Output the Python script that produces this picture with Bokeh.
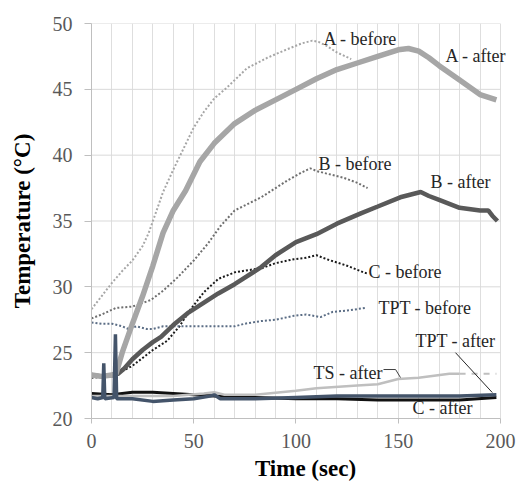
from bokeh.plotting import figure
from bokeh.models import Range1d, FixedTicker, Label
from bokeh.embed import file_html
from bokeh.resources import INLINE

# ---- data ----
a_after_t = [0, 5, 10, 12, 15, 20, 25, 30, 35, 40, 46, 53, 60, 70, 80, 90, 100, 110, 120, 130, 140, 150, 155, 160, 165, 170, 180, 190, 198]
a_after_v = [23.3, 23.2, 23.3, 23.4, 25.0, 27.2, 29.3, 31.6, 34.1, 35.8, 37.3, 39.5, 40.9, 42.4, 43.4, 44.2, 45.0, 45.8, 46.5, 47.0, 47.5, 48.0, 48.1, 47.9, 47.4, 46.8, 45.7, 44.6, 44.2]

a_before_t = [0, 5, 10, 15, 20, 25, 28, 35, 40, 45, 50, 55, 60, 66, 76, 86, 95, 103, 108, 111, 115, 120, 127]
a_before_v = [28.3, 29.3, 30.3, 31.2, 32.0, 33.1, 34.1, 37.2, 38.9, 40.5, 42.1, 43.3, 44.3, 45.1, 46.6, 47.4, 48.0, 48.5, 48.7, 48.6, 48.3, 47.8, 47.3]

b_after_t = [0, 5, 10, 13, 16, 20, 25, 30, 34, 40, 47, 55, 62, 70, 83, 90, 100, 110, 120, 132, 140, 151, 161, 165, 170, 180, 190, 194, 196, 198.5]
b_after_v = [23.3, 23.2, 23.3, 23.4, 23.8, 24.5, 25.2, 25.8, 26.2, 27.1, 28.0, 28.8, 29.5, 30.2, 31.5, 32.4, 33.4, 34.0, 34.8, 35.6, 36.1, 36.8, 37.2, 36.9, 36.6, 36.0, 35.8, 35.8, 35.4, 35.0]

b_before_t = [0, 5, 12, 20, 29, 35, 42, 50, 57, 63, 70, 83, 90, 96, 103, 107, 110, 115, 123, 130, 135]
b_before_v = [27.6, 27.9, 28.4, 28.5, 29.0, 29.7, 30.7, 32.0, 33.3, 34.6, 35.8, 36.8, 37.5, 38.1, 38.7, 39.0, 38.8, 38.6, 38.3, 37.9, 37.5]

c_before_t = [0, 10, 15, 20, 30, 37, 43, 48, 55, 62, 70, 78, 83, 90, 99, 105, 110, 115, 125, 133, 135]
c_before_v = [23.1, 23.2, 23.6, 24.0, 25.2, 25.9, 27.0, 28.2, 29.6, 30.6, 31.1, 31.3, 31.4, 31.8, 32.1, 32.2, 32.4, 32.1, 31.6, 31.1, 31.0]

tpt_before_t = [0, 5, 10, 15, 18, 22, 27, 30, 35, 40, 50, 60, 70, 75, 83, 90, 99, 105, 112, 118, 125, 134]
tpt_before_v = [27.3, 27.2, 27.2, 27.0, 26.8, 27.0, 26.8, 26.8, 27.0, 27.0, 27.0, 27.0, 27.0, 27.2, 27.4, 27.5, 27.8, 27.9, 27.7, 28.1, 28.2, 28.4]

tpt_after_t = [0, 3, 5.5, 6, 6.5, 11, 11.7, 12.3, 20, 30, 40, 50, 58, 60, 63, 80, 100, 120, 140, 160, 180, 198]
tpt_after_v = [21.6, 21.5, 21.6, 24.2, 21.5, 21.6, 26.4, 21.5, 21.5, 21.3, 21.4, 21.5, 21.7, 21.8, 21.5, 21.5, 21.6, 21.7, 21.7, 21.7, 21.7, 21.8]

c_after_t = [0, 10, 20, 30, 40, 50, 60, 80, 100, 120, 140, 160, 180, 198]
c_after_v = [21.9, 21.8, 22.0, 22.0, 21.9, 21.8, 21.7, 21.6, 21.5, 21.5, 21.4, 21.4, 21.4, 21.6]

ts_after_t = [0, 20, 40, 55, 60, 65, 80, 100, 110, 130, 140, 150, 160, 175, 180, 198]
ts_after_v = [21.7, 21.7, 21.7, 21.9, 22.0, 21.8, 21.8, 22.1, 22.3, 22.5, 22.6, 23.0, 23.1, 23.4, 23.4, 23.4]

# labels: (text, t, temperature)
label_text = ["A - before", "A - after", "B - before", "B - after", "C - before",
              "TPT - before", "TPT - after", "TS - after", "C - after"]
label_t = [113.4, 173.1, 111.0, 165.8, 135.5, 140.3, 158.4, 108.6, 157.0]
label_v = [48.85, 47.56, 39.36, 38.0, 31.09, 28.43, 25.92, 23.49, 20.76]

# leader lines
tpt_leader_t = [178, 196]
tpt_leader_v = [25.0, 21.97]
ts_leader_t = [142.8, 148.7, 151.1]
ts_leader_v = [23.72, 23.72, 23.11]

x_ticks = [0, 50, 100, 150, 200]
x_grid = list(range(0, 201, 10))
y_ticks = [20, 25, 30, 35, 40, 45, 50]

FONT = "Liberation Serif"

p = figure(width=521, height=484, output_backend="svg", toolbar_location=None,
           x_range=Range1d(0, 209.3), y_range=Range1d(20, 50),
           min_border_left=91, min_border_right=2, min_border_top=23, min_border_bottom=66)

p.outline_line_color = None
p.background_fill_color = "white"
p.border_fill_color = "white"

p.xgrid.ticker = FixedTicker(ticks=x_grid)
p.xgrid.grid_line_color = "#dedede"
p.xgrid.grid_line_width = 1
p.ygrid.grid_line_color = None
# horizontal grid lines limited to the 0-200 span
p.segment(x0=[x_grid[0]] * len(y_ticks), x1=[x_grid[-1]] * len(y_ticks),
          y0=y_ticks, y1=y_ticks, line_color="#d9d9d9", line_width=1)

for ax in (p.xaxis[0], p.yaxis[0]):
    ax.axis_line_color = "#bfbfbf"
    ax.major_tick_line_color = "#bfbfbf"
    ax.minor_tick_line_color = None
    ax.major_tick_in = 0
    ax.major_label_text_font = FONT
    ax.major_label_text_font_size = "20px"
    ax.major_label_text_color = "#595959"
    ax.axis_label_text_font = FONT
    ax.axis_label_text_font_style = "bold"
    ax.axis_label_text_font_size = "23px"
    ax.axis_label_text_color = "#000000"

p.xaxis.bounds = (0, 200)
p.xaxis.ticker = FixedTicker(ticks=x_ticks)
p.yaxis.ticker = FixedTicker(ticks=y_ticks)
p.xaxis.axis_label = "Time (sec)"
p.yaxis.axis_label = "Temperature (\u00b0C)"
p.xaxis.major_tick_out = 5
p.xaxis.major_label_standoff = 10
p.xaxis.axis_label_standoff = 5
p.yaxis.major_tick_out = 7
p.yaxis.major_label_standoff = 12
p.yaxis.axis_label_standoff = 15

# dotted "before" curves
p.line(a_before_t, a_before_v, line_color="#a6a6a6", line_width=2, line_dash="2 2")
p.line(b_before_t, b_before_v, line_color="#6f6f6f", line_width=2, line_dash="2 2")
p.line(c_before_t, c_before_v, line_color="#1a1a1a", line_width=2, line_dash="2 2")
p.line(tpt_before_t, tpt_before_v, line_color="#5b6d85", line_width=2, line_dash="2 2")

# "after" curves
p.line(b_after_t, b_after_v, line_color="#595959", line_width=4.5)
p.line(a_after_t, a_after_v, line_color="#a6a6a6", line_width=5.5)
p.line(c_after_t, c_after_v, line_color="#111111", line_width=3)
p.line(ts_after_t[:-1], ts_after_v[:-1], line_color="#bfbfbf", line_width=2.5)
p.line(ts_after_t[-2:], ts_after_v[-2:], line_color="#bfbfbf", line_width=2, line_dash="6 6")
p.line(tpt_after_t, tpt_after_v, line_color="#44546a", line_width=3.5)

# leader lines
p.line(tpt_leader_t, tpt_leader_v, line_color="#262626", line_width=1)
p.line(ts_leader_t, ts_leader_v, line_color="#404040", line_width=1)

for txt, tx, ty in zip(label_text, label_t, label_v):
    p.add_layout(Label(x=tx, y=ty, text=txt, text_font=FONT, text_font_size="18px",
                       text_color="#262626", text_baseline="middle", text_align="left"))

open("out.html", "w").write(file_html(p, INLINE))
